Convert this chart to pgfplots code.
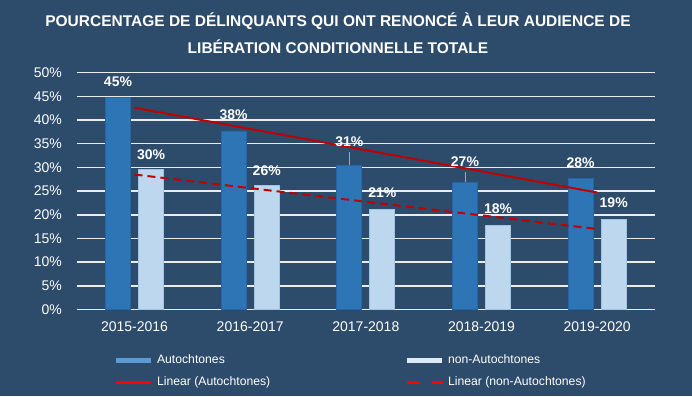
\documentclass[border=0pt]{standalone}
\usepackage{pgfplots}
\pgfplotsset{compat=1.18}
\usepackage{fontspec}
\setmainfont{Liberation Sans}
\definecolor{bg}{RGB}{45,75,106}
\definecolor{autoc}{RGB}{46,117,182}
\definecolor{autoe}{RGB}{40,100,168}
\definecolor{nonc}{RGB}{189,215,238}
\definecolor{nonedge}{RGB}{160,196,228}
\definecolor{redl}{RGB}{192,0,0}
\definecolor{legred}{RGB}{255,0,0}
\definecolor{legauto}{RGB}{91,155,213}
\definecolor{legnon}{RGB}{222,235,247}
\definecolor{gridc}{RGB}{235,235,235}
\definecolor{leader}{RGB}{166,166,166}
\begin{document}
\begin{tikzpicture}
\fill[bg] (0,0) rectangle (692pt,396pt);
\node[anchor=base, text=white, font=\fontsize{15.5}{18}\selectfont\bfseries] at (338pt,369pt) {POURCENTAGE DE DÉLINQUANTS QUI ONT RENONCÉ À LEUR AUDIENCE DE};
\node[anchor=base, text=white, font=\fontsize{15.5}{18}\selectfont\bfseries] at (338pt,342pt) {LIBÉRATION CONDITIONNELLE TOTALE};
\begin{axis}[
  at={(76.7pt,86.5pt)}, anchor=south west,
  scale only axis, width=578.3pt, height=236.8pt,
  xmin=-0.5, xmax=4.5, ymin=0, ymax=50,
  xtick={0,1,2,3,4},
  xticklabels={2015-2016,2016-2017,2017-2018,2018-2019,2019-2020},
  ytick={0,5,10,15,20,25,30,35,40,45,50},
  yticklabels={0\%,5\%,10\%,15\%,20\%,25\%,30\%,35\%,40\%,45\%,50\%},
  major tick length=0pt,
  axis line style={draw=none},
  ymajorgrids, grid style={line width=1.5pt, color=gridc},
  tick label style={text=white, font=\fontsize{14}{16}\selectfont, inner sep=0pt},
  yticklabel style={xshift=-14.7pt},
  xticklabel style={yshift=-12.5pt},
  clip=false,
  /pgf/number format/assume math mode=true,
  legend columns=2,
  legend cell align=left,
  legend style={at={(0.0625,-0.19)}, anchor=north west, draw=none, fill=none,
    inner sep=0pt, text=white, font=\fontsize{12.2}{14}\selectfont,
    nodes={inner xsep=4pt, inner ysep=0pt, text height=9pt, text depth=3pt},
    row sep=10pt, column sep=0pt},
]
\addplot[ybar, bar width=25pt, bar shift=-16.5pt, fill=autoc, draw=autoe, line width=0.8pt,
  legend image code/.code={\draw[line width=5pt, draw=legauto] (0pt,0pt) -- (35pt,0pt);}]
  coordinates {(0,44.8) (1,37.7) (2,30.5) (3,26.9) (4,27.6)};
\addplot[ybar, bar width=25pt, bar shift=16.5pt, fill=nonc, draw=nonedge, line width=0.8pt,
  legend image code/.code={\draw[line width=5pt, draw=legnon] (0pt,0pt) -- (35pt,0pt);}]
  coordinates {(0,29.5) (1,26.1) (2,21.2) (3,17.8) (4,19.0)};
\addplot[redl, line width=2pt, mark=none,
  legend image code/.code={\draw[line width=3pt, legred] (0pt,0pt) -- (35pt,0pt);}]
  coordinates {(0,42.6) (4,24.7)};
\addplot[redl, line width=2pt, mark=none, dash pattern=on 8pt off 5pt,
  legend image code/.code={\draw[line width=3pt, legred, dash pattern=on 13pt off 12pt] (0pt,0pt) -- (36pt,0pt);}]
  coordinates {(0,28.5) (4,17.0)};
\addplot[forget plot, draw=leader, line width=0.8pt, mark=none] coordinates {(1.857,33.3) (1.857,30.5)};
\addplot[forget plot, draw=leader, line width=0.8pt, mark=none] coordinates {(2.857,29.0) (2.857,26.9)};
\addplot[forget plot, draw=none, mark=none, point meta=explicit,
  nodes near coords={\pgfmathprintnumber[assume math mode=true]{\pgfplotspointmeta}\%},
  every node near coord/.append style={anchor=center, inner sep=0pt, text=white, font=\fontsize{14}{16}\selectfont\bfseries}]
  table[x=x, y=y, meta=m] {
x y m
-0.143 48.2 45
0.143 32.7 30
0.857 41.1 38
1.143 29.4 26
1.857 35.4 31
2.143 24.7 21
2.857 31.2 27
3.143 21.2 18
3.857 31.0 28
4.143 22.6 19
};
\legend{\makebox[243pt][l]{Autochtones}, non-Autochtones, \makebox[243pt][l]{Linear (Autochtones)}, Linear (non-Autochtones)}
\end{axis}
\pgfresetboundingbox
\useasboundingbox (0,0) rectangle (692pt,396pt);
\end{tikzpicture}
\end{document}
